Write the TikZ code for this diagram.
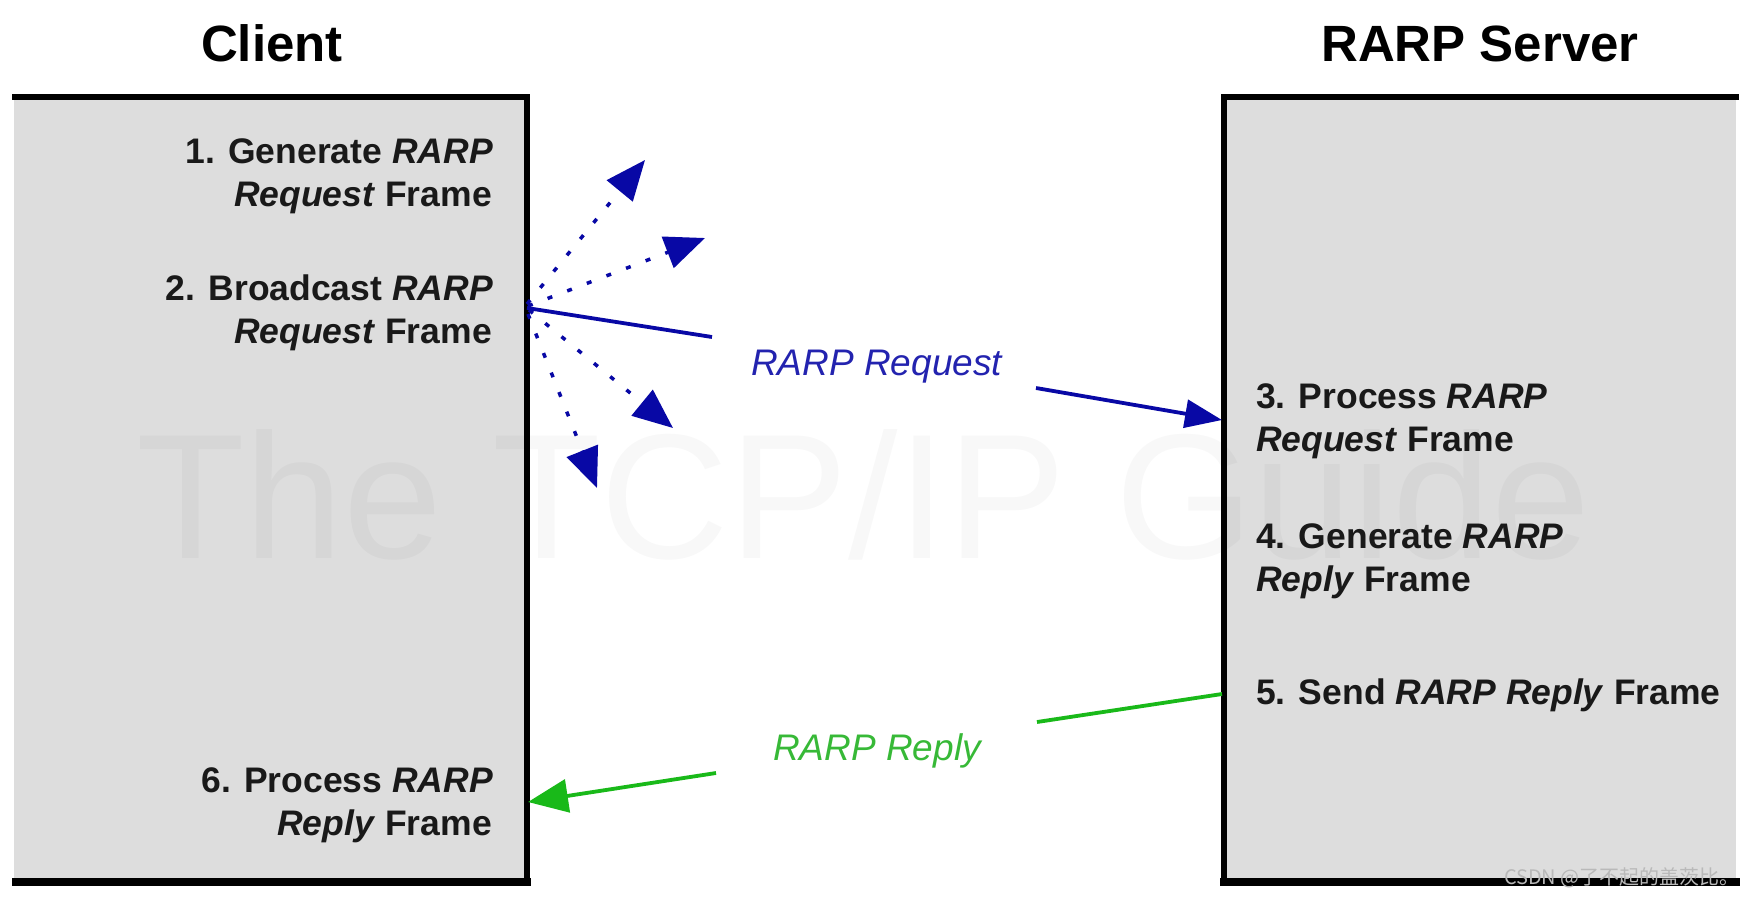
\documentclass[tikz,border=0pt]{standalone}
\usepackage{fontspec}
\setmainfont{Liberation Sans}
\newfontfamily\cjkfont{Noto Sans CJK SC}
\usetikzlibrary{arrows.meta}
\definecolor{boxgray}{RGB}{221,221,221}
\definecolor{reqblue}{RGB}{8,8,165}
\definecolor{reqlabel}{RGB}{35,35,175}
\definecolor{repgreen}{RGB}{25,185,25}
\definecolor{replabel}{RGB}{55,185,55}
\definecolor{wmgray}{RGB}{185,185,185}
\begin{document}
\begin{tikzpicture}[x=1pt,y=-1pt,
  title/.style={font=\fontsize{51}{56}\selectfont\bfseries, inner sep=0pt, anchor=base},
  stepR/.style={font=\fontsize{35.5}{42}\selectfont\bfseries, text=black!90, inner sep=0pt, anchor=base east},
  stepL/.style={font=\fontsize{35.5}{42}\selectfont\bfseries, text=black!90, inner sep=0pt, anchor=base west},
  lbl/.style={font=\fontsize{37}{42}\selectfont\itshape, inner sep=0pt, anchor=base west},
  edge/.style={line width=6pt, line join=miter},
  floor/.style={line width=8pt},
  reqline/.style={draw=reqblue, line width=3.8pt},
  repline/.style={draw=repgreen, line width=3.8pt},
  bcast/.style={draw=reqblue, line width=3.5pt, dash pattern=on 5pt off 16pt,
     -{Triangle[length=40pt,width=33pt]}},
  wm/.style={font=\fontsize{178}{190}\selectfont, inner sep=0pt, anchor=base west}
]
\useasboundingbox (0,0) rectangle (1750,898);
\fill[white] (0,0) rectangle (1750,898);

% boxes
\fill[boxgray] (14,97) rectangle (527,882);
\draw[edge] (12,97) -- (527,97) -- (527,882);
\draw[floor] (12,882) -- (531,882);
\fill[boxgray] (1224,97) rectangle (1736,882);
\draw[edge] (1739,97) -- (1224,97) -- (1224,882);
\draw[floor] (1220,882) -- (1740,882);

% watermark
\node[wm, text=black, opacity=0.028] (wmark) at (136,558) {The TCP/IP Guide};

% titles
\node[title] (ctitle) at (272,61) {Client};
\node[title] (stitle) at (1480,61) {RARP Server};

% client steps
\node[stepR] (s1a) at (493,163) {1. Generate \textit{RARP}};
\node[stepR] (s1b) at (492,206) {\textit{Request} Frame};
\node[stepR] (s2a) at (493,300) {2. Broadcast \textit{RARP}};
\node[stepR] (s2b) at (492,343) {\textit{Request} Frame};
\node[stepR] (s6a) at (493,792) {6. Process \textit{RARP}};
\node[stepR] (s6b) at (492,835) {\textit{Reply} Frame};

% server steps
\node[stepL] (s3a) at (1256,408) {3. Process \textit{RARP}};
\node[stepL] (s3b) at (1256,451) {\textit{Request} Frame};
\node[stepL] (s4a) at (1256,548) {4. Generate \textit{RARP}};
\node[stepL] (s4b) at (1256,591) {\textit{Reply} Frame};
\node[stepL] (s5) at (1256,704) {5. Send \textit{RARP Reply} Frame};

% labels
\node[lbl, text=reqlabel] (lreq) at (751,375) {RARP Request};
\node[lbl, text=replabel] (lrep) at (773,760) {RARP Reply};

% request arrow
\coordinate (reqS) at (527,308);
\coordinate (reqM1) at (712,337);
\coordinate (reqM2) at (1036,388);
\coordinate (reqE) at (1222,420);
\draw[reqline] (reqS) -- (reqM1);
\draw[reqline, -{Triangle[length=37pt,width=28pt]}] (reqM2) -- (reqE);

% broadcast arrows
\coordinate (b1s) at (527,304);
\coordinate (b2s) at (528,306);
\coordinate (b3s) at (529,310);
\coordinate (b4s) at (528,314);
\coordinate (b1) at (645,160);
\coordinate (b2) at (705,238);
\coordinate (b3) at (673,428);
\coordinate (b4) at (597,488);
\draw[bcast] (b1s) -- (b1);
\draw[bcast] (b2s) -- (b2);
\draw[bcast] (b3s) -- (b3);
\draw[bcast] (b4s) -- (b4);

% reply arrow
\coordinate (repS) at (1222,694);
\coordinate (repM1) at (1037,722);
\coordinate (repM2) at (716,773);
\coordinate (repE) at (528,802);
\draw[repline] (repS) -- (repM1);
\draw[repline, -{Triangle[length=40pt,width=33pt]}] (repM2) -- (repE);

% CSDN watermark
\node[font=\cjkfont\fontsize{20}{22}\selectfont, text=wmgray, inner sep=0pt, anchor=east] (csdn) at (1740,878) {CSDN @了不起的盖茨比。};
\end{tikzpicture}
\end{document}
